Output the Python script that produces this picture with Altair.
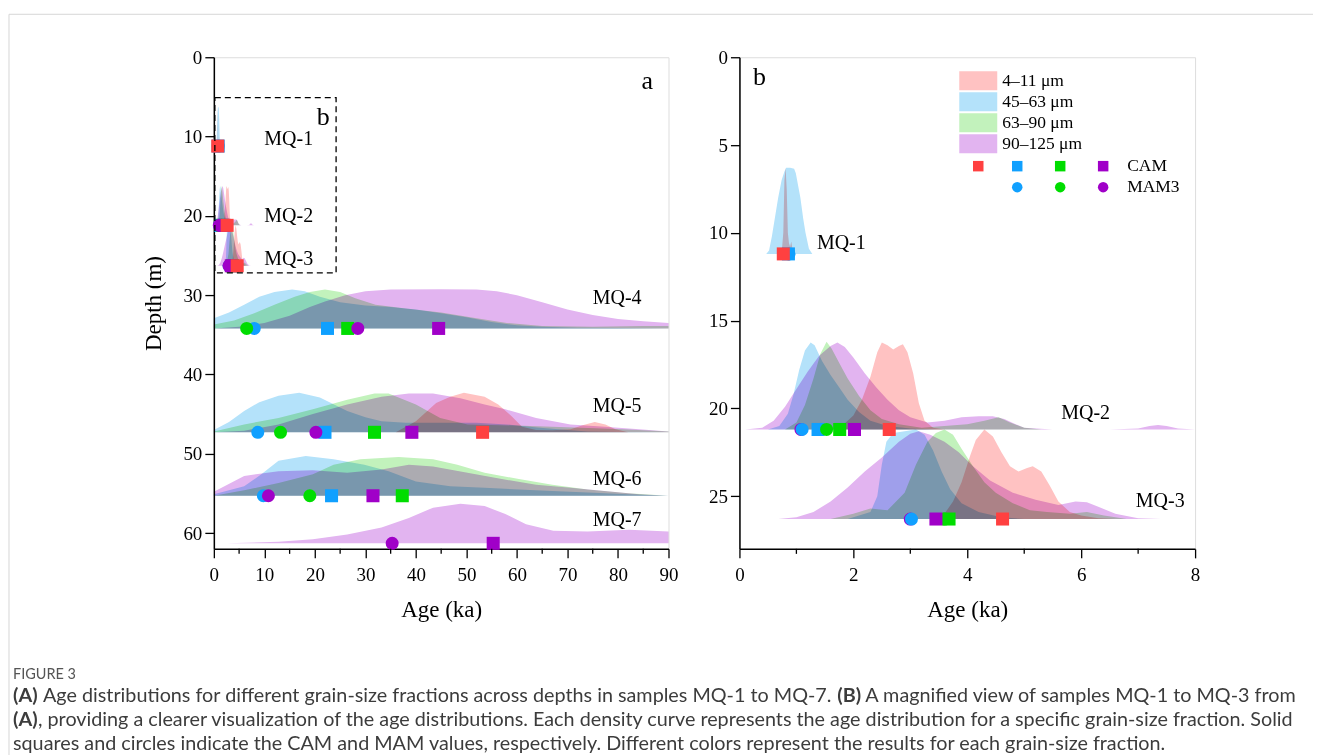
import altair as alt
import pandas as pd

# ---------------- data ----------------
FRACTIONS = ["4–11 μm", "45–63 μm", "63–90 μm", "90–125 μm"]
AREA_COLORS = ["#ffc2c2", "#b4e2fa", "#c2f2bc", "#e2b4f0"]
POINT_COLORS = ["#ff4040", "#10a0ff", "#00dd00", "#a000c8"]

SAMPLES = ["MQ-1", "MQ-2", "MQ-3", "MQ-4", "MQ-5", "MQ-6", "MQ-7"]
BASELINES = [11.2, 21.2, 26.3, 34.2, 47.3, 55.3, 61.3]

# density curves: ages (ka) and top depth of the ridge (m)
MQ1_F1_AGE = [0.74, 0.77, 0.79, 0.81, 0.83, 0.85, 0.87, 0.89, 0.91, 0.93, 0.95]
MQ1_F1_TOP = [11.2, 10.0, 7.0, 6.3, 7.5, 10.0, 10.6, 10.8, 10.5, 10.9, 11.2]
MQ1_F2_AGE = [0.47, 0.52, 0.57, 0.62, 0.68, 0.74, 0.79, 0.82, 0.89, 0.96, 0.99, 1.03, 1.07, 1.12, 1.16, 1.22, 1.28]
MQ1_F2_TOP = [11.2, 11.0, 10.2, 9.2, 8.0, 7.0, 6.5, 6.3, 6.3, 6.35, 6.6, 7.3, 8.0, 9.2, 10.0, 10.9, 11.2]

MQ2_F1_AGE = [1.6, 1.8, 2.0, 2.15, 2.3, 2.42, 2.5, 2.6, 2.7, 2.8, 2.87, 2.95, 3.05, 3.15, 3.25, 3.4, 3.6]
MQ2_F1_TOP = [21.2, 21.0, 20.4, 19.5, 18.2, 16.8, 16.25, 16.4, 16.65, 16.45, 16.35, 16.8, 18.0, 19.7, 20.7, 21.1, 21.2]
MQ2_F2_AGE = [0.5, 0.7, 0.85, 0.95, 1.05, 1.15, 1.25, 1.32, 1.45, 1.6, 1.75, 1.9, 2.1, 2.3, 2.6, 3.0, 3.5]
MQ2_F2_TOP = [21.2, 21.0, 20.3, 19.2, 17.8, 16.7, 16.25, 16.4, 17.3, 18.1, 18.8, 19.5, 20.2, 20.7, 21.0, 21.15, 21.2]
MQ2_F3_AGE = [0.8, 1.0, 1.15, 1.3, 1.42, 1.53, 1.62, 1.75, 1.9, 2.1, 2.3, 2.5, 2.8, 3.2, 3.6, 4.0, 4.3, 4.55, 4.75, 5.0, 5.3]
MQ2_F3_TOP = [21.2, 20.8, 19.8, 18.3, 16.9, 16.2, 16.6, 17.4, 18.3, 19.3, 20.1, 20.6, 20.9, 21.1, 21.0, 20.9, 20.7, 20.5, 20.8, 21.1, 21.2]
MQ2_F4_AGE = [0.1, 0.4, 0.6, 0.8, 1.0, 1.2, 1.4, 1.6, 1.72, 1.85, 2.0, 2.2, 2.4, 2.6, 2.8, 3.0, 3.3, 3.6, 3.9, 4.2,
              4.45, 4.65, 4.85, 5.0, 5.5, 6.5, 7.0, 7.2, 7.35, 7.5, 7.7, 8.0]
MQ2_F4_TOP = [21.2, 21.1, 20.7, 19.9, 18.9, 17.9, 17.0, 16.45, 16.25, 16.5, 17.1, 18.0, 18.8, 19.5, 20.1, 20.5, 20.8,
              20.7, 20.5, 20.45, 20.45, 20.6, 20.9, 21.1, 21.2, 21.2, 21.15, 21.0, 20.95, 21.0, 21.15, 21.2]

MQ3_F1_AGE = [3.4, 3.6, 3.75, 3.9, 4.05, 4.15, 4.3, 4.45, 4.6, 4.75, 4.9, 5.05, 5.15, 5.3, 5.45, 5.6, 5.8, 6.0, 6.3, 6.6]
MQ3_F1_TOP = [26.3, 26.0, 25.3, 24.2, 22.7, 21.8, 21.2, 21.6, 22.5, 23.3, 23.6, 23.4, 23.3, 23.6, 24.4, 25.3, 25.9, 26.1, 26.25, 26.3]
MQ3_F2_AGE = [1.9, 2.3, 2.42, 2.5, 2.58, 2.7, 2.9, 3.1, 3.25, 3.4, 3.55, 3.7, 3.9, 4.2, 4.6, 5.0]
MQ3_F2_TOP = [26.3, 25.9, 25.0, 23.2, 21.9, 21.4, 21.3, 21.2, 21.5, 22.4, 23.6, 24.6, 25.4, 25.9, 26.2, 26.3]
MQ3_F3_AGE = [1.6, 2.0, 2.3, 2.6, 2.9, 3.1, 3.3, 3.45, 3.6, 3.75, 3.9, 4.1, 4.3, 4.5, 4.8, 5.1, 5.4, 5.8, 6.1, 6.4, 6.8]
MQ3_F3_TOP = [26.3, 26.0, 25.7, 25.8, 24.8, 23.2, 21.9, 21.4, 21.2, 21.5, 22.3, 23.3, 24.2, 24.8, 25.4, 25.8, 25.9, 26.0, 25.9, 26.1, 26.3]
MQ3_F4_AGE = [0.68, 1.0, 1.3, 1.6, 1.9, 2.2, 2.5, 2.8, 3.0, 3.15, 3.35, 3.6, 3.85, 4.1, 4.4, 4.8, 5.2, 5.6, 5.9, 6.1,
              6.3, 6.6, 7.0, 7.4, 7.65]
MQ3_F4_TOP = [26.3, 26.2, 25.9, 25.3, 24.5, 23.6, 22.8, 21.9, 21.45, 21.3, 21.5, 21.9, 22.5, 23.3, 24.1, 24.8, 25.2,
              25.5, 25.3, 25.35, 25.6, 26.0, 26.25, 26.3, 26.3]

MQ4_F2_AGE = [0, 3, 6, 9, 12, 15.5, 18, 21, 25, 30, 35, 40, 45, 50, 55, 60, 65, 72, 80, 90]
MQ4_F2_TOP = [32.9, 32.2, 31.2, 30.2, 29.6, 29.3, 29.5, 30.2, 30.9, 31.3, 31.5, 31.8, 32.3, 32.8, 33.4, 33.8, 34.0, 34.1, 34.15, 34.2]
MQ4_F3_AGE = [0, 4, 8, 12, 16, 19, 22, 25, 28, 32, 38, 45, 52, 58, 65, 75, 85, 90]
MQ4_F3_TOP = [33.7, 33.2, 32.3, 31.2, 30.2, 29.6, 29.3, 29.6, 30.4, 31.2, 31.7, 32.2, 32.9, 33.5, 33.9, 34.0, 33.9, 33.9]
MQ4_F4_AGE = [0, 5, 10, 15, 19, 22, 26, 30, 35, 45, 52, 56, 60, 65, 70, 75, 80, 85, 90]
MQ4_F4_TOP = [34.2, 34.0, 33.5, 32.6, 31.5, 30.8, 30.0, 29.5, 29.3, 29.25, 29.3, 29.5, 30.0, 30.9, 31.8, 32.5, 33.0, 33.3, 33.5]

MQ5_F1_AGE = [36, 40, 44, 46.8, 49.5, 53.6, 56.3, 59, 61, 63.8, 67, 70.6, 73, 75.4, 77.5, 79.5, 82]
MQ5_F1_TOP = [47.3, 45.9, 43.6, 42.8, 42.3, 42.8, 43.8, 45.3, 46.6, 47.0, 47.05, 46.9, 46.4, 46.0, 46.3, 46.9, 47.3]
MQ5_F2_AGE = [0, 3, 6, 9, 12.8, 16.9, 21, 26.4, 30, 33.2, 38, 45, 52, 58, 64, 70, 74, 80, 90]
MQ5_F2_TOP = [47.0, 46.0, 44.6, 43.5, 42.7, 42.3, 42.9, 44.6, 45.4, 45.9, 46.1, 46.1, 46.1, 46.3, 46.7, 47.0, 47.2, 47.25, 47.3]
MQ5_F3_AGE = [0, 6, 12.8, 19.6, 26.4, 31.8, 34.6, 40, 44.8, 50.2, 57, 67, 81, 90]
MQ5_F3_TOP = [47.2, 46.3, 45.5, 44.4, 43.2, 42.4, 42.4, 43.8, 45.5, 46.3, 46.4, 46.6, 46.9, 47.2]
MQ5_F4_AGE = [0, 6, 12.8, 19.6, 26.4, 33.2, 38.6, 43.4, 48.8, 53.6, 57.7, 63.8, 70.6, 77.4, 84.2, 90]
MQ5_F4_TOP = [47.3, 47.1, 46.3, 45.0, 43.8, 42.8, 42.4, 42.4, 43.0, 43.8, 44.4, 45.5, 46.3, 46.6, 46.9, 47.2]

MQ6_F2_AGE = [0, 6, 9.4, 12.8, 18.2, 23.7, 29.8, 34.6, 40, 46.8, 53.6, 60.4, 67, 74, 82, 90]
MQ6_F2_TOP = [55.1, 54.1, 52.6, 50.9, 50.3, 50.7, 51.4, 52.2, 53.5, 54.1, 54.3, 54.5, 54.7, 54.9, 55.1, 55.3]
MQ6_F3_AGE = [0, 6, 12.8, 19.6, 23.7, 29, 36.6, 43.4, 48.2, 53.6, 60.4, 67, 74, 82, 90]
MQ6_F3_TOP = [55.3, 54.6, 53.7, 52.6, 51.4, 50.7, 50.4, 50.7, 51.4, 52.4, 53.2, 53.9, 54.5, 55.0, 55.3]
MQ6_F4_AGE = [0, 6, 12.8, 19.6, 26.4, 33.2, 38.6, 43.4, 50.2, 57, 63.8, 70.6, 77.4, 84.2, 90]
MQ6_F4_TOP = [54.8, 52.8, 52.2, 52.1, 52.4, 52.0, 51.4, 51.6, 52.4, 53.2, 53.9, 54.3, 54.7, 55.1, 55.3]

MQ7_F4_AGE = [2.6, 12.8, 19.6, 26.4, 33.2, 38.6, 43.4, 48.8, 53.6, 57.7, 61.8, 67.2, 74, 82.2, 90]
MQ7_F4_TOP = [61.3, 61.1, 60.8, 60.2, 59.3, 58.1, 56.8, 56.3, 56.6, 57.6, 58.9, 59.7, 59.8, 59.6, 59.8]

CURVES = [
    ("MQ-1", 0, MQ1_F1_AGE, MQ1_F1_TOP), ("MQ-1", 1, MQ1_F2_AGE, MQ1_F2_TOP),
    ("MQ-2", 0, MQ2_F1_AGE, MQ2_F1_TOP), ("MQ-2", 1, MQ2_F2_AGE, MQ2_F2_TOP),
    ("MQ-2", 2, MQ2_F3_AGE, MQ2_F3_TOP), ("MQ-2", 3, MQ2_F4_AGE, MQ2_F4_TOP),
    ("MQ-3", 0, MQ3_F1_AGE, MQ3_F1_TOP), ("MQ-3", 1, MQ3_F2_AGE, MQ3_F2_TOP),
    ("MQ-3", 2, MQ3_F3_AGE, MQ3_F3_TOP), ("MQ-3", 3, MQ3_F4_AGE, MQ3_F4_TOP),
    ("MQ-4", 1, MQ4_F2_AGE, MQ4_F2_TOP), ("MQ-4", 2, MQ4_F3_AGE, MQ4_F3_TOP), ("MQ-4", 3, MQ4_F4_AGE, MQ4_F4_TOP),
    ("MQ-5", 0, MQ5_F1_AGE, MQ5_F1_TOP), ("MQ-5", 1, MQ5_F2_AGE, MQ5_F2_TOP),
    ("MQ-5", 2, MQ5_F3_AGE, MQ5_F3_TOP), ("MQ-5", 3, MQ5_F4_AGE, MQ5_F4_TOP),
    ("MQ-6", 1, MQ6_F2_AGE, MQ6_F2_TOP), ("MQ-6", 2, MQ6_F3_AGE, MQ6_F3_TOP), ("MQ-6", 3, MQ6_F4_AGE, MQ6_F4_TOP),
    ("MQ-7", 3, MQ7_F4_AGE, MQ7_F4_TOP),
]

# CAM (squares) and MAM3 (circles) ages, ka
POINT_SAMPLE = ["MQ-1", "MQ-1", "MQ-1",
                "MQ-2", "MQ-2", "MQ-2", "MQ-2", "MQ-2", "MQ-2", "MQ-2",
                "MQ-3", "MQ-3", "MQ-3", "MQ-3", "MQ-3", "MQ-3",
                "MQ-4", "MQ-4", "MQ-4", "MQ-4", "MQ-4", "MQ-4",
                "MQ-5", "MQ-5", "MQ-5", "MQ-5", "MQ-5", "MQ-5", "MQ-5",
                "MQ-6", "MQ-6", "MQ-6", "MQ-6", "MQ-6", "MQ-6",
                "MQ-7", "MQ-7"]
POINT_FRACTION = [1, 1, 0,
                  1, 1, 2, 2, 3, 3, 0,
                  1, 2, 2, 3, 3, 0,
                  1, 1, 2, 2, 3, 3,
                  1, 1, 2, 2, 3, 3, 0,
                  1, 1, 2, 2, 3, 3,
                  3, 3]
POINT_STAT = ["MAM3", "CAM", "CAM",
              "MAM3", "CAM", "MAM3", "CAM", "MAM3", "CAM", "CAM",
              "MAM3", "MAM3", "CAM", "MAM3", "CAM", "CAM",
              "MAM3", "CAM", "MAM3", "CAM", "MAM3", "CAM",
              "MAM3", "CAM", "MAM3", "CAM", "MAM3", "CAM", "CAM",
              "MAM3", "CAM", "MAM3", "CAM", "MAM3", "CAM",
              "MAM3", "CAM"]
POINT_AGE = [0.87, 0.86, 0.77,
             1.10, 1.38, 1.53, 1.76, 1.08, 2.02, 2.63,
             3.02, 3.60, 3.68, 3.00, 3.45, 4.62,
             8.0, 22.5, 6.5, 26.5, 28.5, 44.5,
             8.7, 22.0, 13.2, 31.8, 20.2, 39.2, 53.2,
             9.8, 23.3, 19.0, 37.3, 10.8, 31.5,
             35.3, 55.3]

LABELS_A = ["MQ-1", "MQ-2", "MQ-3", "MQ-4", "MQ-5", "MQ-6", "MQ-7"]
LABELS_A_AGE = [10.0, 10.0, 10.0, 75.0, 75.0, 75.0, 75.0]
LABELS_A_DEPTH = [10.35, 20.05, 25.5, 30.35, 44.0, 53.2, 58.3]
LABELS_B = ["MQ-1", "MQ-2", "MQ-3"]
LABELS_B_AGE = [1.36, 5.65, 6.96]
LABELS_B_DEPTH = [10.57, 20.24, 25.27]

X_TICKS_A = [0, 10, 20, 30, 40, 50, 60, 70, 80, 90]
X_MINOR_A = [5, 15, 25, 35, 45, 55, 65, 75, 85]
Y_TICKS_A = [0, 10, 20, 30, 40, 50, 60]
X_TICKS_B = [0, 2, 4, 6, 8]
X_MINOR_B = [1, 3, 5, 7]
Y_TICKS_B = [0, 5, 10, 15, 20, 25]

CAPTION_HEAD = "FIGURE 3"
CAP_L1 = [("(A)", True), ("Age distributions for different grain-size fractions across depths in samples MQ-1 to MQ-7.", False),
          ("(B)", True), ("A magnified view of samples MQ-1 to MQ-3 from", False)]
CAP_L2 = [("(A)", True), (", providing a clearer visualization of the age distributions. Each density curve represents the age distribution for a specific grain-size fraction. Solid", False)]
CAP_L3 = [("squares and circles indicate the CAM and MAM values, respectively. Different colors represent the results for each grain-size fraction.", False)]

# ---------------- layout constants ----------------
SERIF = "Liberation Serif"
SANS = "Lato"
H = 492
W_A, XMAX_A, YMAX_A = 455, 90, 62
W_B, XMAX_B, YMAX_B = 456, 8, 28
ORIGIN_A = (213, 56)

area_rows = []
for s, f, ages, tops in CURVES:
    base = BASELINES[SAMPLES.index(s)]
    for a, t in zip(ages, tops):
        area_rows.append({"sample": s, "fraction": FRACTIONS[f], "age": a, "top": t, "base": base})
area_all = pd.DataFrame(area_rows)

rank_a = {1: 1, 2: 2, 3: 3, 0: 4}
pt_rows = []
for i, (s, f, st, a) in enumerate(zip(POINT_SAMPLE, POINT_FRACTION, POINT_STAT, POINT_AGE)):
    oa = rank_a[f] * 10 + (0 if st == "MAM3" else 1)
    ob = 0 if (f == 3 and st == "MAM3") else oa
    pt_rows.append({"sample": s, "fraction": FRACTIONS[f], "stat": st, "age": a,
                    "depth": BASELINES[SAMPLES.index(s)], "oa": oa, "ob": ob, "i": i})
pts_all = pd.DataFrame(pt_rows)

axis_common = dict(labelFont=SERIF, labelFontSize=19, titleFont=SERIF, titleFontSize=23,
                   titleFontWeight="normal", labelColor="black", titleColor="black",
                   tickColor="black", domainColor="black", tickSize=9, tickWidth=1.3,
                   domainWidth=1.5, grid=False, labelFlush=False, format="d")

area_scale = alt.Scale(domain=FRACTIONS, range=AREA_COLORS)
point_scale = alt.Scale(domain=FRACTIONS, range=POINT_COLORS)
shape_scale = alt.Scale(domain=["CAM", "MAM3"], range=["square", "circle"])


def panel(samples, xmax, ymax, W, xticks, xminor, yticks, order_field):
    xs = alt.Scale(domain=[0, xmax], nice=False, zero=False)
    ys = alt.Scale(domain=[0, ymax], nice=False, zero=False, reverse=True)
    xa = alt.Axis(values=xticks, title="Age (ka)", labelPadding=8, titlePadding=14, **axis_common)
    ya = alt.Axis(values=yticks, title="Depth (m)" if xmax > 10 else None, labelPadding=3,
                  titlePadding=17, **axis_common)
    adf = area_all[area_all["sample"].isin(samples)]
    pdf = pts_all[pts_all["sample"].isin(samples)]
    areas = alt.Chart(adf).mark_area(blend="multiply", strokeWidth=0).encode(
        x=alt.X("age:Q", scale=xs, axis=xa),
        y=alt.Y("top:Q", scale=ys, axis=ya, stack=None),
        y2="base:Q",
        color=alt.Color("fraction:N", scale=area_scale, legend=None),
        detail="sample:N",
    )
    points = alt.Chart(pdf).mark_point(filled=True, opacity=1, strokeWidth=0, size=170).encode(
        x="age:Q", y="depth:Q",
        color=alt.Color("fraction:N", scale=point_scale, legend=None),
        shape=alt.Shape("stat:N", scale=shape_scale, legend=None),
        order=alt.Order(f"{order_field}:Q"),
    )
    minor = alt.Chart(pd.DataFrame({"t": xminor})).mark_rule(color="black", strokeWidth=1.3).encode(
        x="t:Q", y=alt.value(H), y2=alt.value(H + 5))
    return [areas, points, minor]


# ---------- panel a ----------
layers_a = panel(SAMPLES, XMAX_A, YMAX_A, W_A, X_TICKS_A, X_MINOR_A, Y_TICKS_A, "oa")
lab_a = alt.Chart(pd.DataFrame({"t": LABELS_A, "x": LABELS_A_AGE, "y": LABELS_A_DEPTH})).mark_text(
    font=SERIF, fontSize=20, align="left", baseline="middle", color="black").encode(
    x="x:Q", y="y:Q", text="t:N")
box = alt.Chart(alt.Data(values=[{"k": 1}])).mark_rect(
    fillOpacity=0, stroke="black", strokeDash=[6, 4], strokeWidth=1.3).encode(
    x=alt.datum(0.2), x2=alt.datum(24.2), y=alt.datum(5.1), y2=alt.datum(27.2))
letters_a = alt.Chart(pd.DataFrame({"t": ["a", "b"], "x": [85.8, 21.65], "y": [2.95, 7.57]})).mark_text(
    font=SERIF, fontSize=26, align="center", baseline="middle", color="black").encode(
    x="x:Q", y="y:Q", text="t:N")

one = alt.Data(values=[{"k": 1}])
ox, oy = ORIGIN_A
frame_v = alt.Chart(one).mark_rule(color="#d6d6d6", strokeWidth=1).encode(
    x=alt.value(8 - ox), y=alt.value(13 - oy), y2=alt.value(755 - oy))
frame_h = alt.Chart(one).mark_rule(color="#d6d6d6", strokeWidth=1).encode(
    x=alt.value(8 - ox), x2=alt.value(1313 - ox), y=alt.value(13 - oy))

cap_layers = [alt.Chart(one).mark_text(font=SANS, fontSize=14.5, align="left", baseline="middle",
                                       color="#555555").encode(
    x=alt.value(12 - ox), y=alt.value(674 - oy), text=alt.value(CAPTION_HEAD))]
line_specs = [(CAP_L1, [12, 42, 837, 865], 695.5), (CAP_L2, [12, 37], 719.3), (CAP_L3, [12], 743)]
for segs, xs_px, ypx in line_specs:
    for (txt, bold), xp in zip(segs, xs_px):
        cap_layers.append(alt.Chart(one).mark_text(
            font=SANS, fontSize=19.8, align="left", baseline="middle", color="#3c3c3c",
            fontWeight="bold" if bold else "normal").encode(
            x=alt.value(xp - ox), y=alt.value(ypx - oy), text=alt.value(txt)))

chart_a = alt.layer(*layers_a, lab_a, box, letters_a, frame_v, frame_h, *cap_layers).resolve_scale(
    color="independent", shape="independent").properties(width=W_A, height=H)

# ---------- panel b ----------
layers_b = panel(["MQ-1", "MQ-2", "MQ-3"], XMAX_B, YMAX_B, W_B, X_TICKS_B, X_MINOR_B, Y_TICKS_B, "ob")
lab_b = alt.Chart(pd.DataFrame({"t": LABELS_B, "x": LABELS_B_AGE, "y": LABELS_B_DEPTH})).mark_text(
    font=SERIF, fontSize=20, align="left", baseline="middle", color="black").encode(
    x="x:Q", y="y:Q", text="t:N")
letter_b = alt.Chart(pd.DataFrame({"t": ["b"], "x": [0.35], "y": [1.1]})).mark_text(
    font=SERIF, fontSize=26, align="center", baseline="middle", color="black").encode(
    x="x:Q", y="y:Q", text="t:N")


def bx(px):
    return (px - 739) * XMAX_B / W_B


def by(py):
    return (py - 56) * YMAX_B / H


leg_sw = pd.DataFrame({
    "fraction": FRACTIONS,
    "x": [bx(959)] * 4, "x2": [bx(997)] * 4,
    "y": [by(70 + 21 * i) for i in range(4)], "y2": [by(89 + 21 * i) for i in range(4)],
    "lx": [bx(1002)] * 4, "ly": [by(80 + 21 * i) for i in range(4)],
})
sw = alt.Chart(leg_sw).mark_rect().encode(
    x="x:Q", x2="x2:Q", y="y:Q", y2="y2:Q",
    color=alt.Color("fraction:N", scale=area_scale, legend=None))
sw_t = alt.Chart(leg_sw).mark_text(font=SERIF, fontSize=17.5, align="left", baseline="middle",
                                   color="black").encode(x="lx:Q", y="ly:Q", text="fraction:N")
leg_pts = pd.DataFrame({
    "fraction": FRACTIONS + FRACTIONS[1:],
    "stat": ["CAM"] * 4 + ["MAM3"] * 3,
    "x": [bx(p) for p in [978, 1017, 1060, 1103, 1017, 1060, 1103]],
    "y": [by(165)] * 4 + [by(186)] * 3,
})
lp = alt.Chart(leg_pts).mark_point(filled=True, opacity=1, strokeWidth=0, size=110).encode(
    x="x:Q", y="y:Q",
    color=alt.Color("fraction:N", scale=point_scale, legend=None),
    shape=alt.Shape("stat:N", scale=shape_scale, legend=None))
lp_t = alt.Chart(pd.DataFrame({"t": ["CAM", "MAM3"], "x": [bx(1127)] * 2, "y": [by(165), by(186)]})).mark_text(
    font=SERIF, fontSize=17.5, align="left", baseline="middle", color="black").encode(
    x="x:Q", y="y:Q", text="t:N")

chart_b = alt.layer(*layers_b, lab_b, letter_b, sw, sw_t, lp, lp_t).resolve_scale(
    color="independent", shape="independent").properties(width=W_B, height=H)

chart = alt.hconcat(chart_a, chart_b, spacing=71, bounds="flush").properties(
    padding={"left": 0, "top": 5, "right": 0, "bottom": 0}
).configure_view(stroke="black", strokeWidth=1.5).configure(background="white")

chart.save("out.html", embed_options={"renderer": "svg", "actions": False})
